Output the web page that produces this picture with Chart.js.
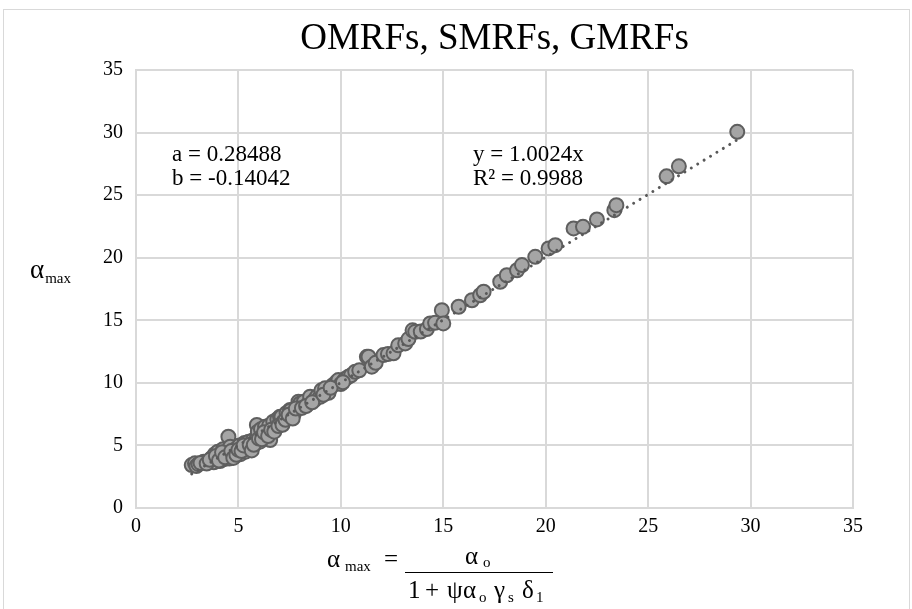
<!DOCTYPE html>
<html>
<head>
<meta charset="utf-8">
<script src="https://cdn.jsdelivr.net/npm/chart.js@4.4.1/dist/chart.umd.min.js"></script>
<style>
  body { margin: 0; background: #fff; }
  canvas { display: block; }
</style>
</head>
<body>
<canvas id="myChart" width="912" height="609"></canvas>
<script>
// values
const ptsX = [2.72, 2.88, 2.95, 3.05, 3.3, 3.55, 3.7, 3.76, 3.8, 3.85, 3.95, 4.0, 4.1, 4.15, 4.25, 4.3,
  4.4, 4.45, 4.51, 4.55, 4.6, 4.6, 4.7, 4.8, 4.85, 4.95, 5.05, 5.1, 5.2, 5.3, 5.35, 5.41, 5.45, 5.5,
  5.6, 5.7, 5.8, 5.9, 5.9, 5.95, 6.05, 6.1, 6.2, 6.3, 6.4, 6.5, 6.55, 6.55, 6.7, 6.8, 6.9, 7.0, 7.03,
  7.1, 7.2, 7.35, 7.5, 7.52, 7.55, 7.7, 7.93, 8.01, 8.2, 8.4, 8.5, 8.7, 8.83, 8.99, 9.05, 9.23, 9.4,
  9.6, 9.8, 9.88, 10.0, 10.2, 10.37, 10.5, 10.7, 10.9, 11.27, 11.35, 11.51, 11.7, 12.08, 12.3, 12.57,
  12.8, 13.14, 13.3, 13.5, 13.63, 13.9, 14.2, 14.36, 14.6, 14.93, 15.0, 15.75, 16.4, 16.8, 16.97,
  17.78, 18.1, 18.6, 18.84, 19.49, 20.14, 20.47, 21.36, 21.82, 22.5, 23.35, 23.45, 25.9, 26.5, 29.35,
  3.15, 3.45, 3.6, 3.9, 4.05, 4.2, 4.35, 4.65, 4.75, 4.9, 5.0, 5.15, 5.25, 5.55, 5.65, 5.75, 6.0,
  6.15, 6.25, 6.45, 6.6, 6.75, 6.95, 7.15, 7.3, 7.45, 7.65, 7.8, 8.1, 8.3, 8.6, 9.15, 9.5, 10.1];
const ptsY = [3.43, 3.57, 3.35, 3.5, 3.7, 3.75, 4.0, 3.83, 3.65, 4.3, 3.9, 4.5, 3.75, 4.2, 4.7, 3.9,
  4.1, 4.5, 5.7, 3.95, 4.9, 4.1, 4.3, 4.1, 4.7, 4.45, 5.0, 4.3, 4.75, 5.2, 4.5, 5.17, 4.9, 5.3,
  4.8, 5.4, 5.1, 5.6, 6.63, 6.1, 5.3, 6.3, 5.8, 6.5, 6.1, 6.6, 5.9, 5.43, 6.9, 6.4, 7.1, 6.7, 7.29,
  7.3, 6.9, 7.6, 7.2, 7.83, 7.8, 7.5, 8.49, 8.36, 8.5, 8.3, 8.89, 8.6, 8.89, 8.89, 9.4, 9.56, 9.2,
  9.8, 10.09, 10.22, 9.9, 10.3, 10.49, 10.6, 10.89, 11.0, 12.08, 12.09, 11.29, 11.6, 12.22, 12.3, 12.36,
  13.0, 13.15, 13.5, 14.2, 14.08, 14.1, 14.3, 14.75, 14.8, 15.8, 14.75, 16.08, 16.6, 17.0, 17.28,
  18.08, 18.6, 19.0, 19.41, 20.07, 20.74, 21.0, 22.34, 22.47, 23.06, 23.8, 24.2, 26.5, 27.3, 30.06,
  3.6, 3.55, 3.85, 4.15, 3.8, 4.45, 4.05, 4.55, 4.0, 4.25, 4.65, 4.55, 5.0, 5.05, 4.6, 5.05, 5.55,
  5.5, 6.05, 5.75, 6.25, 6.1, 6.55, 6.65, 7.05, 7.45, 7.15, 7.95, 8.0, 8.15, 8.45, 9.05, 9.6, 10.05];

// linear trendline, as printed on the chart
const trendSlope = 1.0024;
const trendX = [2.72, 29.35];
const xTicks = [0, 5, 10, 15, 20, 25, 30, 35];
const yTicks = [0, 5, 10, 15, 20, 25, 30, 35];

const chartTitle = 'OMRFs, SMRFs, GMRFs';
const fitText = ['a = 0.28488', 'b = -0.14042'];
const trendText = ['y = 1.0024x', 'R² = 0.9988'];

const SERIF = '"Liberation Serif", "Times New Roman", serif';

const points = ptsX.map((x, i) => ({x: x, y: ptsY[i]}));
const trend = trendX.map(x => ({x: x, y: trendSlope * x}));

// draws the texts Excel places by hand: title, box border, labels, axis titles
const extras = {
  id: 'extras',
  beforeDraw(chart) {
    const ctx = chart.ctx;
    ctx.save();
    ctx.fillStyle = '#fff';
    ctx.fillRect(0, 0, chart.width, chart.height);
    ctx.strokeStyle = '#d9d9d9';
    ctx.lineWidth = 1;
    ctx.strokeRect(3.5, 9.5, 906, 620);
    ctx.restore();
  },
  afterDraw(chart) {
    const ctx = chart.ctx;
    const area = chart.chartArea;
    ctx.save();
    ctx.fillStyle = '#000';
    ctx.textBaseline = 'alphabetic';

    ctx.font = '37px ' + SERIF;
    ctx.textAlign = 'center';
    ctx.fillText(chartTitle, (area.left + area.right) / 2, 49);

    ctx.textAlign = 'left';
    ctx.font = '23px ' + SERIF;
    ctx.fillText(fitText[0], 172, 161);
    ctx.fillText(fitText[1], 172, 185);
    ctx.fillText(trendText[0], 473, 161);
    ctx.fillText(trendText[1], 473, 185);

    // y axis title
    ctx.font = '27px ' + SERIF;
    ctx.fillText('α', 30, 278);
    let w = ctx.measureText('α').width;
    ctx.font = '15px ' + SERIF;
    ctx.fillText('max', 30 + w + 1, 283);

    // x axis title: alpha_max = alpha_o / (1 + psi alpha_o gamma_s delta_1)
    const piece = (s, x, base, sub) => {
      ctx.font = (sub ? '15px ' : '25px ') + SERIF;
      ctx.fillText(s, x, base + (sub ? 4 : 0));
    };
    piece('α', 327, 567, false);
    piece('max', 345, 567, true);
    piece('=', 384, 567, false);
    ctx.strokeStyle = '#000';
    ctx.lineWidth = 1;
    ctx.beginPath();
    ctx.moveTo(405, 572.5);
    ctx.lineTo(553, 572.5);
    ctx.stroke();
    piece('α', 465, 564, false);
    piece('o', 483, 563, true);
    const den = [['1', 408, false], ['+', 425, false], ['ψ', 447, false], ['α', 463, false],
      ['o', 479, true], ['γ', 494, false], ['s', 508, true], ['δ', 522, false], ['1', 536, true]];
    den.forEach(d => piece(d[0], d[1], 598, d[2]));
    ctx.restore();
  }
};

const config = {
  data: {
    datasets: [
      {
        type: 'line',
        label: 'trend',
        data: trend,
        borderColor: '#595959',
        borderWidth: 3,
        borderDash: [0.01, 7.5],
        borderCapStyle: 'round',
        pointRadius: 0,
        fill: false,
        order: 0
      },
      {
        type: 'scatter',
        label: 'points',
        data: points,
        backgroundColor: '#a5a5a5',
        borderColor: '#5f5f5f',
        borderWidth: 2,
        pointRadius: 7,
        order: 1
      }
    ]
  },
  options: {
    responsive: false,
    animation: false,
    layout: {padding: {left: 0, right: 59, top: 70, bottom: 0}},
    plugins: {
      legend: {display: false},
      tooltip: {enabled: false},
      title: {display: false}
    },
    scales: {
      x: {
        type: 'linear',
        min: 0,
        max: 35,
        afterBuildTicks: s => { s.ticks = xTicks.map(v => ({value: v})); },
        afterFit: s => { s.height = 101; },
        ticks: {color: '#000', font: {family: SERIF, size: 20}, padding: 7, maxRotation: 0},
        grid: {color: '#d9d9d9', lineWidth: 2, drawTicks: false},
        border: {color: '#d9d9d9', width: 2}
      },
      y: {
        type: 'linear',
        min: 0,
        max: 35,
        afterBuildTicks: s => { s.ticks = yTicks.map(v => ({value: v})); },
        afterFit: s => { s.width = 136; },
        ticks: {color: '#000', font: {family: SERIF, size: 20}, padding: 13},
        grid: {color: '#d9d9d9', lineWidth: 2, drawTicks: false},
        border: {color: '#d9d9d9', width: 2}
      }
    }
  },
  plugins: [extras]
};

const myChart = new Chart(document.getElementById('myChart'), config);
</script>
</body>
</html>
